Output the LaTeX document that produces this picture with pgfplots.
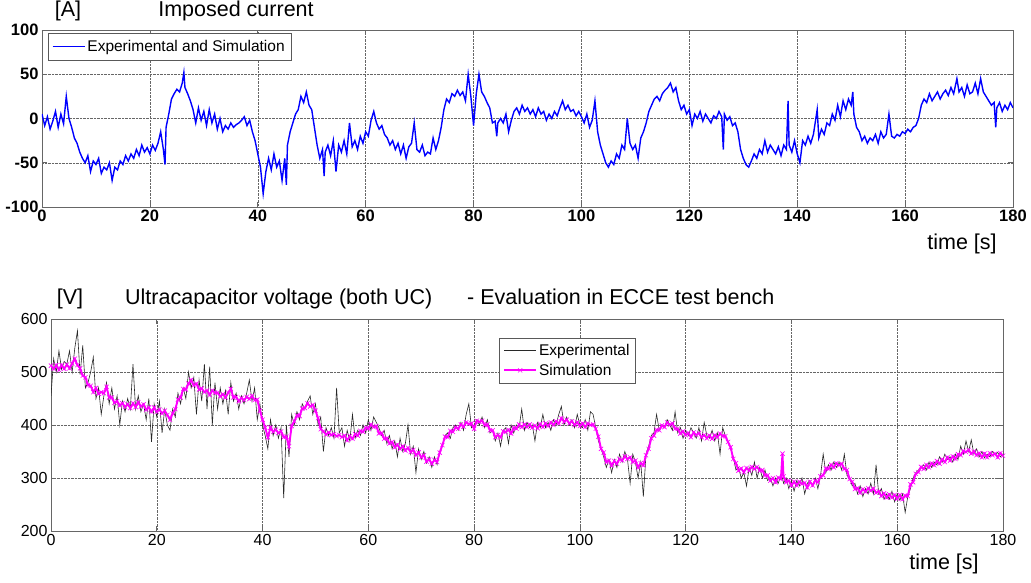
\documentclass[border=0pt]{standalone}
\usepackage{pgfplots}
\pgfplotsset{compat=1.18}
\usepackage{pgfplotstable}
\usepackage{fontspec}
\setmainfont{Liberation Sans}
\definecolor{mag}{RGB}{255,0,255}
\definecolor{expc}{RGB}{40,40,40}

\pgfplotstableread[row sep=\\]{
t I\\
0 5\\ 0.5 -8\\ 1 2\\ 1.5 -12\\ 2 -3\\ 2.5 8\\ 3 -10\\ 3.5 5\\ 4 -6\\ 4.5 25\\ 5 0\\ 5.5 -10\\ 6 -22\\ 6.5 -28\\ 7 -38\\ 7.5 -45\\ 8 -50\\ 8.5 -42\\ 9 -60\\ 9.5 -48\\
10 -52\\ 10.5 -45\\ 11 -62\\ 11.5 -55\\ 12 -58\\ 12.5 -50\\ 13 -70\\ 13.5 -55\\ 14 -58\\ 14.5 -48\\ 15 -52\\ 15.5 -42\\ 16 -48\\ 16.5 -40\\ 17 -45\\ 17.5 -35\\ 18 -42\\ 18.5 -30\\ 19 -38\\ 19.5 -33\\
20 -40\\ 20.5 -30\\ 21 -36\\ 21.5 -28\\ 22 -15\\ 22.5 -35\\ 22.8 -52\\ 23 -10\\ 23.5 5\\ 24 22\\ 24.5 28\\ 25 33\\ 25.5 30\\ 26 40\\ 26.3 52\\ 26.5 35\\ 27 28\\ 27.5 20\\ 28 10\\ 28.5 -5\\ 29 12\\ 29.5 -2\\
30 8\\ 30.5 -8\\ 31 10\\ 31.5 -5\\ 32 5\\ 32.5 -12\\ 33 0\\ 33.5 -15\\ 34 -8\\ 34.5 -12\\ 35 -5\\ 35.5 -10\\ 36 -7\\ 36.5 -5\\ 37 -2\\ 37.5 2\\ 38 -8\\ 38.5 -2\\ 39 -15\\ 39.5 -25\\
40 -40\\ 40.5 -55\\ 41 -85\\ 41.5 -60\\ 42 -45\\ 42.5 -58\\ 43 -40\\ 43.5 -55\\ 44 -48\\ 44.5 -70\\ 45 -45\\ 45.3 -75\\ 45.5 -30\\ 46 -15\\ 46.5 -5\\ 47 5\\ 47.5 10\\ 48 25\\ 48.5 18\\ 49 30\\ 49.5 15\\
50 10\\ 50.5 -10\\ 51 -30\\ 51.5 -45\\ 52 -35\\ 52.3 -65\\ 52.5 -38\\ 53 -30\\ 53.5 -42\\ 54 -25\\ 54.5 -60\\ 55 -30\\ 55.5 -38\\ 56 -25\\ 56.5 -40\\ 57 -5\\ 57.5 -32\\ 58 -25\\ 58.5 -35\\ 59 -20\\ 59.5 -28\\
60 -15\\ 60.5 -20\\ 61 -2\\ 61.5 8\\ 62 -5\\ 62.5 -12\\ 63 -8\\ 63.5 -18\\ 64 -22\\ 64.5 -30\\ 65 -25\\ 65.5 -35\\ 66 -28\\ 66.5 -40\\ 67 -30\\ 67.5 -45\\ 68 -32\\ 68.5 -28\\ 69 -5\\ 69.5 -35\\
70 -38\\ 70.5 -30\\ 71 -42\\ 71.5 -38\\ 72 -40\\ 72.5 -22\\ 73 -35\\ 73.5 -25\\ 74 -10\\ 74.5 10\\ 75 22\\ 75.5 18\\ 76 28\\ 76.5 25\\ 77 32\\ 77.5 26\\ 78 30\\ 78.5 20\\ 79 50\\ 79.5 25\\
80 -8\\ 80.5 28\\ 81 50\\ 81.5 30\\ 82 25\\ 82.5 18\\ 83 12\\ 83.5 -5\\ 84 -3\\ 84.3 -20\\ 84.5 -5\\ 85 0\\ 85.5 -5\\ 86 5\\ 86.5 -15\\ 87 -2\\ 87.5 8\\ 88 12\\ 88.5 5\\ 89 15\\ 89.5 8\\
90 12\\ 90.5 5\\ 91 10\\ 91.5 2\\ 92 12\\ 92.5 5\\ 93 8\\ 93.5 -2\\ 94 5\\ 94.5 0\\ 95 8\\ 95.5 3\\ 96 12\\ 96.5 20\\ 97 10\\ 97.5 15\\ 98 8\\ 98.5 10\\ 99 3\\ 99.5 8\\
100 2\\ 100.5 -5\\ 101 5\\ 101.5 -10\\ 102 -2\\ 102.5 20\\ 103 -15\\ 103.5 -30\\ 104 -40\\ 104.5 -50\\ 105 -55\\ 105.5 -48\\ 106 -52\\ 106.5 -40\\ 107 -45\\ 107.5 -30\\ 108 -35\\ 108.5 0\\ 109 -28\\ 109.5 -35\\
110 -30\\ 110.5 -45\\ 111 -22\\ 111.5 -15\\ 112 -5\\ 112.5 8\\ 113 15\\ 113.5 22\\ 114 25\\ 114.5 20\\ 115 28\\ 115.5 32\\ 116 35\\ 116.5 40\\ 117 30\\ 117.5 35\\ 118 20\\ 118.5 10\\ 119 15\\ 119.5 5\\
120 10\\ 120.5 -8\\ 121 5\\ 121.5 0\\ 122 8\\ 122.5 -3\\ 123 5\\ 123.5 0\\ 124 -5\\ 124.5 3\\ 125 0\\ 125.5 8\\ 126 2\\ 126.3 -35\\ 126.5 5\\ 127 -2\\ 127.5 2\\ 128 -8\\ 128.5 -5\\ 129 -15\\ 129.5 -35\\
130 -45\\ 130.5 -52\\ 131 -55\\ 131.5 -48\\ 132 -40\\ 132.5 -45\\ 133 -35\\ 133.5 -40\\ 134 -25\\ 134.5 -38\\ 135 -30\\ 135.5 -35\\ 136 -40\\ 136.5 -32\\ 137 -42\\ 137.5 -30\\ 138 -35\\ 138.3 20\\ 138.5 -30\\ 139 -38\\ 139.5 -25\\
140 -40\\ 140.5 -50\\ 141 -25\\ 141.5 -30\\ 142 -20\\ 142.5 -28\\ 143 -18\\ 143.7 10\\ 144 -22\\ 144.5 -12\\ 145 -18\\ 145.5 -5\\ 146 -8\\ 146.5 5\\ 147 -2\\ 147.5 15\\ 148 2\\ 148.5 20\\ 149 10\\ 149.5 22\\
150 15\\ 150.3 30\\ 150.5 5\\ 151 -10\\ 151.5 -15\\ 152 -25\\ 152.5 -20\\ 153 -28\\ 153.5 -22\\ 154 -25\\ 154.5 -18\\ 155 -28\\ 155.5 -15\\ 156 -22\\ 156.5 -18\\ 157 5\\ 157.5 -20\\ 158 -22\\ 158.5 -18\\ 159 -20\\ 159.5 -15\\
160 -17\\ 160.5 -12\\ 161 -15\\ 161.5 -10\\ 162 -8\\ 162.5 0\\ 163 15\\ 163.5 22\\ 164 18\\ 164.5 28\\ 165 20\\ 165.5 25\\ 166 30\\ 166.5 22\\ 167 28\\ 167.5 32\\ 168 26\\ 168.5 35\\ 169 28\\ 169.6 45\\
170 30\\ 170.5 35\\ 171 25\\ 171.5 38\\ 172 28\\ 172.5 30\\ 173 40\\ 173.5 28\\ 174 45\\ 174.5 30\\ 175 25\\ 175.5 20\\ 176 15\\ 176.5 18\\ 176.8 -10\\ 177 12\\ 177.5 18\\ 178 8\\ 178.5 15\\ 179 10\\ 179.5 18\\ 180 12\\
}\cur

\pgfplotstableread[row sep=\\]{
t Vs Ve\\
0 512 455\\ 0.5 506 525\\ 1 513 500\\ 1.5 504 540\\ 2 513 505\\ 2.5 506 520\\ 3 514 515\\ 3.5 507 540\\ 4 516 500\\ 4.5 525 545\\ 5 513 578\\ 5.5 507 495\\ 6 493 550\\ 6.5 490 470\\ 7 475 480\\ 7.5 474 500\\ 8 462 528\\ 8.5 470 450\\ 9 459 470\\ 9.5 462 420\\
10 460 455\\ 10.5 472 480\\ 11 452 440\\ 11.5 452 470\\ 12 442 430\\ 12.5 445 455\\ 13 437 400\\ 13.5 441 445\\ 14 434 425\\ 14.5 439 450\\ 15 432 430\\ 15.5 441 515\\ 16 434 430\\ 16.5 443 455\\ 17 435 425\\ 17.5 439 440\\ 18 429 410\\ 18.5 433 450\\ 19 425 368\\ 19.5 433 440\\
20 425 415\\ 20.5 429 445\\ 21 422 385\\ 21.5 427 430\\ 22 419 400\\ 22.5 410 390\\ 23 422 430\\ 23.5 430 415\\ 24 448 460\\ 24.5 452 440\\ 25 468 470\\ 25.5 467 450\\ 26 478 500\\ 26.5 485 470\\ 27 475 490\\ 27.5 478 420\\ 28 467 485\\ 28.5 469 445\\ 29 462 515\\ 29.5 465 430\\
30 457 510\\ 30.5 465 400\\ 31 461 480\\ 31.5 461 430\\ 32 454 470\\ 32.5 458 440\\ 33 452 465\\ 33.5 461 420\\ 34 468 480\\ 34.5 452 445\\ 35 453 460\\ 35.5 445 430\\ 36 451 455\\ 36.5 447 440\\ 37 453 460\\ 37.5 449 485\\ 38 455 445\\ 38.5 447 470\\ 39 448 410\\ 39.5 427 440\\
40 410 400\\ 40.5 395 380\\ 41 377 355\\ 41.5 395 410\\ 42 387 380\\ 42.5 391 400\\ 43 385 375\\ 43.5 388 395\\ 44 377 262\\ 44.5 378 400\\ 45 360 340\\ 45.5 398 420\\ 46 407 400\\ 46.5 418 425\\ 47 417 410\\ 47.5 431 440\\ 48 432 430\\ 48.5 441 445\\ 49 435 455\\ 49.5 438 420\\
50 427 440\\ 50.5 413 400\\ 51 392 415\\ 51.5 388 350\\ 52 382 395\\ 52.5 386 380\\ 53 381 395\\ 53.5 383 375\\ 54 379 470\\ 54.5 381 385\\ 55 377 395\\ 55.5 380 360\\ 56 371 390\\ 56.5 379 370\\ 57 374 420\\ 57.5 383 375\\ 58 380 390\\ 58.5 389 380\\ 59 387 400\\ 59.5 395 385\\
60 393 410\\ 60.5 401 390\\ 61 396 415\\ 61.5 398 405\\ 62 384 395\\ 62.5 385 380\\ 63 374 390\\ 63.5 375 365\\ 64 365 380\\ 64.5 368 355\\ 65 358 370\\ 65.5 363 340\\ 66 355 375\\ 66.5 360 350\\ 67 352 365\\ 67.5 357 400\\ 68 349 345\\ 68.5 353 360\\ 69 343 310\\ 69.5 348 355\\
70 339 335\\ 70.5 343 350\\ 71 331 328\\ 71.5 335 340\\ 72 327 320\\ 72.5 334 340\\ 73 330 325\\ 73.5 348 350\\ 74 362 360\\ 74.5 378 380\\ 75 377 385\\ 75.5 389 375\\ 76 387 395\\ 76.5 396 400\\ 77 393 390\\ 77.5 401 405\\ 78 397 390\\ 78.5 405 420\\ 79 402 440\\ 79.5 403 395\\
80 393 400\\ 80.5 408 410\\ 81 406 400\\ 81.5 408 415\\ 82 400 395\\ 82.5 401 410\\ 83 390 385\\ 83.5 390 390\\ 84 377 370\\ 84.5 381 385\\ 85 377 360\\ 85.5 388 390\\ 86 387 395\\ 86.5 391 365\\ 87 384 400\\ 87.5 395 385\\ 88 393 400\\ 88.5 401 395\\ 89 396 430\\ 89.5 401 390\\
90 396 405\\ 90.5 401 395\\ 91 395 400\\ 91.5 399 370\\ 92 394 405\\ 92.5 402 395\\ 93 396 420\\ 93.5 403 395\\ 94 398 405\\ 94.5 405 390\\ 95 400 410\\ 95.5 407 400\\ 96 403 420\\ 96.5 413 435\\ 97 406 400\\ 97.5 410 415\\ 98 403 400\\ 98.5 407 410\\ 99 400 395\\ 99.5 405 420\\
100 398 400\\ 100.5 403 395\\ 101 396 410\\ 101.5 403 390\\ 102 400 425\\ 102.5 401 420\\ 103 393 395\\ 103.5 378 370\\ 104 355 355\\ 104.5 348 340\\ 105 330 320\\ 105.5 333 335\\ 106 324 310\\ 106.5 332 335\\ 107 327 320\\ 107.5 336 345\\ 108 333 330\\ 108.5 341 350\\ 109 336 335\\ 109.5 339 290\\
110 330 345\\ 110.5 333 330\\ 111 320 300\\ 111.5 328 330\\ 112 324 265\\ 112.5 343 345\\ 113 355 360\\ 113.5 375 380\\ 114 380 385\\ 114.5 391 420\\ 115 390 390\\ 115.5 399 400\\ 116 396 395\\ 116.5 405 410\\ 117 400 400\\ 117.5 403 390\\ 118 393 425\\ 118.5 393 385\\ 119 384 395\\ 119.5 388 375\\
120 381 390\\ 120.5 385 380\\ 121 377 395\\ 121.5 386 385\\ 122 381 375\\ 122.5 385 395\\ 123 377 370\\ 123.5 381 405\\ 124 375 380\\ 124.5 380 375\\ 125 374 390\\ 125.5 381 370\\ 126 377 385\\ 126.5 384 345\\ 127 379 395\\ 127.5 379 380\\ 128 368 370\\ 128.5 358 355\\ 129 336 340\\ 129.5 328 315\\
130 314 320\\ 130.5 318 300\\ 131 311 310\\ 131.5 319 285\\ 132 314 320\\ 132.5 321 305\\ 133 317 330\\ 133.5 321 300\\ 134 314 320\\ 134.5 315 300\\ 135 305 315\\ 135.5 305 295\\ 136 295 300\\ 136.5 300 285\\ 137 292 300\\ 137.5 301 290\\ 138 298 305\\ 138.3 346 300\\ 138.5 303 290\\ 139 292 300\\ 139.5 295 280\\
140 286 295\\ 140.5 293 275\\ 141 286 295\\ 141.5 293 285\\ 142 289 300\\ 142.5 291 270\\ 143 282 290\\ 143.5 293 295\\ 144 286 285\\ 144.5 295 300\\ 145 292 280\\ 145.5 303 305\\ 146 305 345\\ 146.5 318 310\\ 147 317 325\\ 147.5 325 315\\ 148 320 330\\ 148.5 328 320\\ 149 324 330\\ 149.5 327 315\\
150 317 345\\ 150.5 315 305\\ 151 298 300\\ 151.5 293 285\\ 152 279 290\\ 152.5 281 270\\ 153 272 285\\ 153.5 279 265\\ 154 274 280\\ 154.5 281 270\\ 155 276 290\\ 155.5 280 270\\ 156 272 325\\ 156.5 275 270\\ 157 266 280\\ 157.5 271 260\\ 158 263 270\\ 158.5 269 260\\ 159 263 275\\ 159.5 268 255\\
160 261 270\\ 160.5 268 258\\ 161 260 270\\ 161.5 267 235\\ 162 266 265\\ 162.5 288 280\\ 163 292 300\\ 163.5 308 310\\ 164 311 315\\ 164.5 321 320\\ 165 317 325\\ 165.5 325 315\\ 166 320 330\\ 166.5 328 320\\ 167 324 330\\ 167.5 332 325\\ 168 327 340\\ 168.5 335 330\\ 169 330 345\\ 169.5 339 335\\
170 333 340\\ 170.5 341 330\\ 171 336 345\\ 171.5 345 335\\ 172 343 360\\ 172.5 351 345\\ 173 349 370\\ 173.5 353 350\\ 174 346 372\\ 174.5 350 345\\ 175 343 355\\ 175.5 347 340\\ 176 339 350\\ 176.5 346 338\\ 177 339 345\\ 177.5 347 340\\ 178 343 350\\ 178.5 346 345\\ 179 339 348\\ 179.5 347 340\\ 180 342 345\\
}\volt

\pgfplotsset{
  matstyle/.style={
    scale only axis, xmin=0, xmax=180, xtick={0,20,...,180},
    grid=major, grid style={densely dotted, gray!80!black, line width=0.5pt},
    axis line style={gray!80!black, line width=0.8pt},
    tick style={gray!80!black, line width=0.6pt}, major tick length=5pt,
    tick align=inside,
    /pgf/number format/assume math mode=true,
    /pgf/number format/set thousands separator={},
    legend cell align=left,
  }
}

\begin{document}
\begin{tikzpicture}[x=1pt,y=1pt]
\useasboundingbox (0,0) rectangle (1031,-583);
\begin{axis}[matstyle,
  at={(42pt,-207pt)}, anchor=south west, width=971pt, height=177pt,
  ymin=-100, ymax=100, ytick={-100,-50,0,50,100},
  ticklabel style={font=\fontsize{16.5}{18}\selectfont\bfseries},
  xticklabel style={yshift=1pt},
  legend style={at={(0.006,0.983)}, anchor=north west, draw=gray!70!black,
    font=\fontsize{15.5}{17}\selectfont, inner xsep=4pt, inner ysep=5pt, row sep=0pt},
  legend image code/.code={\draw[#1] (0pt,0pt) -- (32pt,0pt);},
]
\addplot[blue, line width=1.4pt] table[x=t, y=I] {\cur};
\addlegendentry{Experimental and Simulation}
\end{axis}

\begin{axis}[matstyle,
  at={(51pt,-531pt)}, anchor=south west, width=952pt, height=212pt,
  ymin=200, ymax=600, ytick={200,300,400,500,600},
  ticklabel style={font=\fontsize{16}{18}\selectfont},
  legend style={at={(0.4706,0.91)}, anchor=north west, draw=gray!70!black,
    font=\fontsize{15.5}{17}\selectfont, inner xsep=4pt, inner ysep=4pt, row sep=3pt},
  legend image code/.code={\draw[mark repeat=2,mark phase=2,#1] plot coordinates {(0pt,0pt) (16pt,0pt) (32pt,0pt)};},
]
\addplot[expc, line width=0.6pt] table[x=t, y=Ve] {\volt};
\addlegendentry{Experimental}
\addplot[mag, line width=1.9pt, mark=x, mark size=3pt, mark options={solid, line width=0.6pt}] table[x=t, y=Vs] {\volt};
\addlegendentry{Simulation}
\end{axis}

\node[anchor=base, font=\fontsize{21.5}{24}\selectfont] at (68,-17) {[A]};
\node[anchor=base, font=\fontsize{21.5}{24}\selectfont] at (236,-17) {Imposed current};
\node[anchor=base, font=\fontsize{21.5}{24}\selectfont] at (962,-249) {time [s]};
\node[anchor=base, font=\fontsize{21.5}{24}\selectfont] at (70,-304) {[V]};
\node[anchor=base west, font=\fontsize{21.5}{24}\selectfont, inner sep=0pt] at (125,-304) {Ultracapacitor voltage (both UC)};
\node[anchor=base west, font=\fontsize{21.5}{24}\selectfont, inner sep=0pt] at (467,-304) {- Evaluation in ECCE test bench};
\node[anchor=base, font=\fontsize{21.5}{24}\selectfont] at (944,-569) {time [s]};
\end{tikzpicture}
\end{document}
